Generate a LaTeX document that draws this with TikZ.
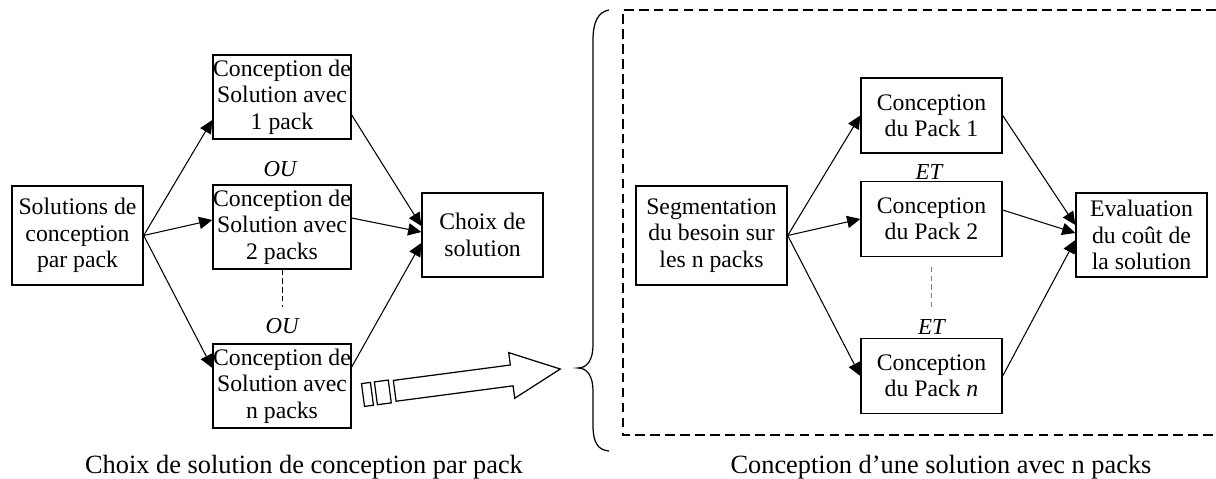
\documentclass[tikz,border=0pt]{standalone}
\usepackage{fontspec}
\setmainfont{Liberation Serif}
\usetikzlibrary{arrows.meta}

\begin{document}
\begin{tikzpicture}[x=0.02cm,y=0.02cm,
		every node/.style={font=\fontsize{13.5}{15}\selectfont},
		bloc/.style={draw,line width=0.8pt,align=center,inner sep=0pt,minimum height=1.68cm},
		etiq/.style={font=\fontsize{13}{15}\selectfont\itshape,inner sep=3pt},
		legende/.style={font=\fontsize{15}{17}\selectfont},
		fleche/.style={-{Triangle[length=7.5pt,width=7pt]},line width=0.6pt}]
	\useasboundingbox (0,0) rectangle (1216,-479);

	% choix de solution par pack
	\node[bloc,minimum width=2.62cm,minimum height=1.98cm] at (77.5,-235.5) (sol) {Solutions de\\conception\\par pack};
	\node[bloc,minimum width=2.76cm] at (282,-97)  (c1) {Conception de\\Solution avec\\1 pack};
	\node[bloc,minimum width=2.76cm] at (282,-227) (c2) {Conception de\\Solution avec\\2 packs};
	\node[bloc,minimum width=2.76cm] at (282,-386) (cn) {Conception de\\Solution avec\\n packs};
	\node[bloc,minimum width=2.42cm] at (482.5,-235) (choix) {Choix de\\solution};
	\node[etiq] at (280,-169) (ou1) {OU};
	\node[etiq] at (282,-326) (ou2) {OU};

	\path[fleche] (sol.east) edge ([yshift=-0.46cm]c1.west)
			edge ([yshift=0.14cm]c2.west)
			edge ([yshift=0.36cm]cn.west)
		([yshift=-0.36cm]c1.east) edge ([yshift=0.18cm]choix.west)
		([yshift=0.18cm]c2.east) edge ([yshift=0.06cm]choix.west)
		([yshift=0.38cm]cn.east) edge ([yshift=-0.16cm]choix.west);
	\draw[dash pattern=on 3pt off 2pt,line width=0.5pt,shorten >=3pt] (c2) -- (ou2);

	% fleche vers le detail
	\begin{scope}[shift={(363,-395)},rotate=7.5,line width=0.7pt]
		\draw (0,-11.5) rectangle (9,11.5);
		\draw (13,-11.5) rectangle (27,11.5);
		\draw (32,-10.5) -- (150,-10.5) -- (150,-23) -- (199,0) -- (150,23) -- (150,10.5) -- (32,10.5) -- cycle;
	\end{scope}
	\draw[line width=0.7pt] (609,-10) .. controls (598,-12) and (593,-22) .. (593,-40) -- (593,-345)
		.. controls (593,-360) and (587,-368) .. (578,-368)
		.. controls (587,-368) and (593,-376) .. (593,-391) -- (593,-425)
		.. controls (593,-443) and (598,-450) .. (609,-451);
	\draw[line width=1.1pt,dash pattern=on 5.5pt off 3pt] (1216,-10) -- (623,-10) -- (623,-435) -- (1216,-435);

	% conception avec n packs
	\node[bloc,minimum width=3.02cm,minimum height=1.98cm] at (711.5,-235.5) (seg) {Segmentation\\du besoin sur\\les n packs};
	\node[bloc,minimum width=2.82cm,minimum height=1.5cm] at (931.5,-115.5) (p1) {Conception\\du Pack 1};
	\node[bloc,minimum width=2.82cm,minimum height=1.5cm] at (931.5,-219) (p2) {Conception\\du Pack 2};
	\node[bloc,minimum width=2.82cm,minimum height=1.5cm] at (931.5,-376) (pn) {Conception\\du Pack \textit{n}};
	\node[bloc,minimum width=2.62cm] at (1141.5,-235) (cout) {Evaluation\\du coût de\\la solution};
	\node[etiq] at (929,-172) (et1) {ET};
	\node[etiq] at (931.5,-327) (et2) {ET};

	\path[fleche] (seg.east) edge (p1.west)
			edge (p2.west)
			edge (pn.west)
		(p1.east) edge ([yshift=0.2cm]cout.west)
		([yshift=0.18cm]p2.east) edge ([yshift=0.04cm]cout.west)
		(pn.east) edge ([yshift=-0.1cm]cout.west);
	\draw[dash pattern=on 3pt off 2pt,line width=0.5pt,gray,shorten <=5.5pt,shorten >=3pt] (p2) -- (et2);

	\node[legende] at (304,-467) (leg1) {Choix de solution de conception par pack};
	\node[legende] at (941,-467) (leg2) {Conception d'une solution avec n packs};
\end{tikzpicture}
\end{document}
